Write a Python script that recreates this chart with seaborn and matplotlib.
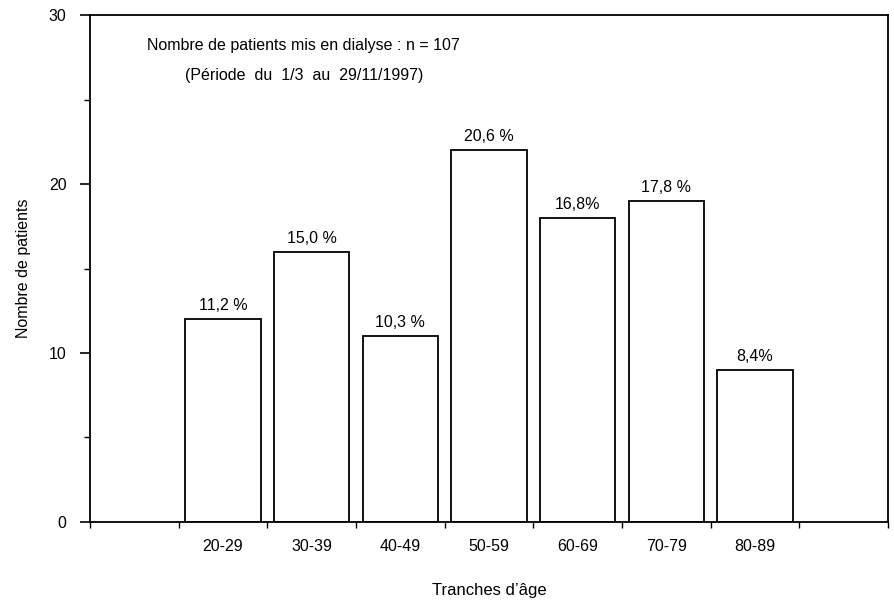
import numpy as np
import pandas as pd
import matplotlib
matplotlib.use("Agg")
import matplotlib.pyplot as plt
import seaborn as sns
from matplotlib.ticker import FixedLocator

# Data
tranches = ["20-29", "30-39", "40-49", "50-59", "60-69", "70-79", "80-89"]
patients = [12, 16, 11, 22, 18, 19, 9]
pourcents = ["11,2 %", "15,0 %", "10,3 %", "20,6 %", "16,8%", "17,8 %", "8,4%"]

df = pd.DataFrame({"tranche": tranches, "n": patients})

sns.set_theme(style="ticks")
plt.rcParams["font.family"] = ["Liberation Sans", "DejaVu Sans"]

fig = plt.figure(figsize=(8.95, 6.04), dpi=100)
ax = fig.add_axes([0.1006, 0.1358, 0.8916, 0.8392])

sns.barplot(data=df, x="tranche", y="n", order=tranches, color="white",
            edgecolor="black", linewidth=1.3, width=0.85, ax=ax)

for i, (v, lab) in enumerate(zip(patients, pourcents)):
    ax.text(i, v + 0.35, lab, ha="center", va="bottom", fontsize=11.5, color="black")

ax.set_xlim(-1.5, 7.5)
ax.set_ylim(0, 30)
ax.set_yticks([0, 10, 20, 30])
ax.yaxis.set_minor_locator(FixedLocator([5, 15, 25]))
ax.xaxis.set_minor_locator(FixedLocator(np.arange(-1.5, 8, 1)))
ax.tick_params(axis="x", which="major", length=0, pad=12, labelsize=11.5, colors="black")
ax.tick_params(axis="x", which="minor", length=4, width=1, direction="out", color="black")
ax.tick_params(axis="y", which="major", length=7, width=1.2, pad=10, labelsize=11.5, colors="black")
ax.tick_params(axis="y", which="minor", length=4, width=1, color="black")

for s in ax.spines.values():
    s.set_visible(True)
    s.set_color("black")
    s.set_linewidth(1.3)

ax.set_xlabel("Tranches d’âge", fontsize=12, labelpad=21, color="black")
ax.set_ylabel("Nombre de patients", fontsize=11.5, labelpad=13, color="black")

ax.text(0.91, 28.2, "Nombre de patients mis en dialyse : n = 107",
        ha="center", va="center", fontsize=11.5, color="black")
ax.text(0.91, 26.45, "(Période  du  1/3  au  29/11/1997)",
        ha="center", va="center", fontsize=11.5, color="black")

fig.savefig("out.png", dpi=100, facecolor="white")
